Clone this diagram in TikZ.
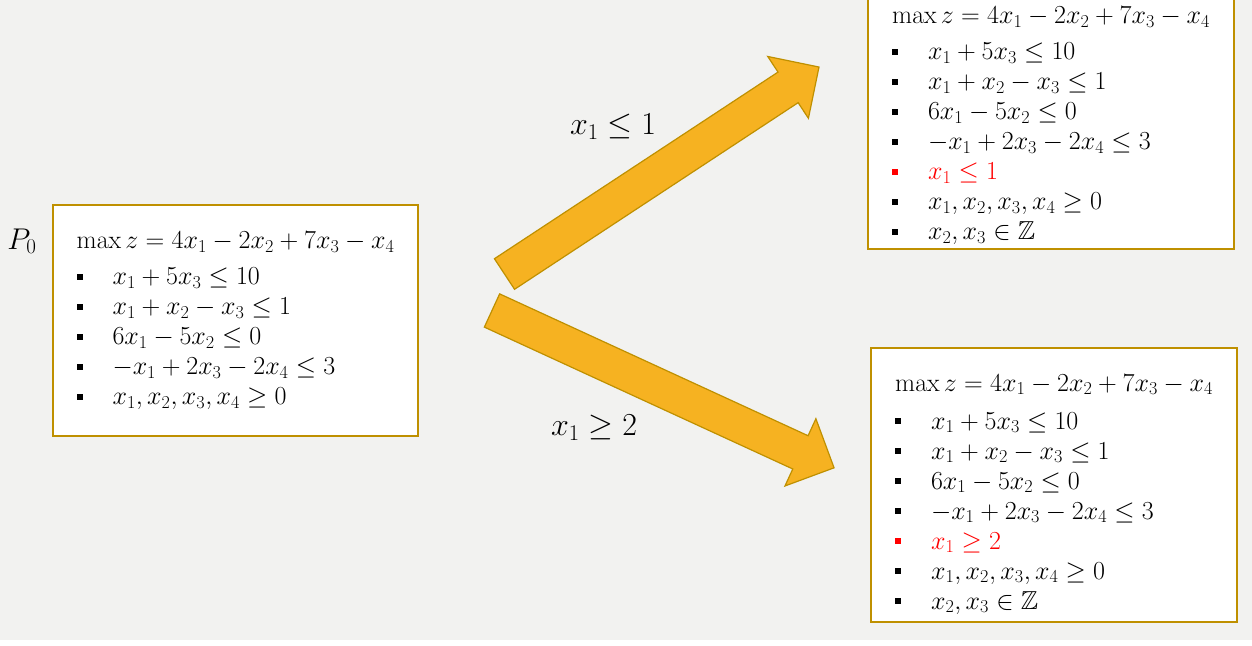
\RequirePackage{fix-cm}
\documentclass[tikz,border=0pt]{standalone}
\usepackage{amsmath}
\usepackage{amssymb}
\usepackage{tikz}
\usetikzlibrary{positioning,calc}
\definecolor{bggray}{HTML}{F2F2F0}
\definecolor{arrowgold}{HTML}{F6B221}
\definecolor{darkgold}{HTML}{BF9000}
\newcommand\Cut[1]{\textcolor{red}{#1}}
\newcommand\sq{\raisebox{5pt}{\rule{6pt}{6pt}}}
\newcommand\objline{\multicolumn{2}{@{}l@{}}{$\max z = 4x_1 - 2x_2 + 7x_3 - x_4$}\\[6pt]}
\newcommand\baserows{%
  \sq & $x_1 + 5x_3 \le 10$\\
  \sq & $x_1 + x_2 - x_3 \le 1$\\
  \sq & $6x_1 - 5x_2 \le 0$\\
  \sq & $-x_1 + 2x_3 - 2x_4 \le 3$\\}

\begin{document}
\begin{tikzpicture}[x=1pt, y=-1pt,
    lpbox/.style={draw=darkgold, line width=1.3pt, fill=white, inner sep=0pt,
      font=\fontsize{26}{30}\selectfont},
    branch/.style={font=\fontsize{32}{34}\selectfont},
    blockarrow/.style={fill=arrowgold, draw=darkgold, line width=1.2pt, line join=miter},
    bigarrow/.pic={
      \draw[blockarrow] (0,-18.3) -- (339.5,-18.3) -- (339.5,-37) -- (376.5,0)
        -- (339.5,37) -- (339.5,18.3) -- (0,18.3) -- cycle;
    }]
  \useasboundingbox (0,0) rectangle (1252,645);
  \fill[bggray] (0,0) rectangle (1252,640);
  \fill[white] (0,640) rectangle (1252,645);

  % problems
  \node[lpbox, minimum width=365pt, minimum height=231pt] (p0) at (235.5,320.5) {%
    \begin{tabular}{@{}l@{\hspace{30pt}}l@{}}
      \objline
      \baserows
      \sq & $x_1, x_2, x_3, x_4 \ge 0$
    \end{tabular}};
  \node[lpbox, minimum width=366pt, anchor=south] (p1) at (1051,249.5) {%
    \begin{tabular}{@{}l@{\hspace{30pt}}l@{}}
      \noalign{\vskip 24pt}
      \objline
      \baserows
      \Cut{\sq} & \Cut{$x_1 \le 1$}\\
      \sq & $x_1, x_2, x_3, x_4 \ge 0$\\
      \sq & $x_2, x_3 \in \mathbb{Z}$
    \end{tabular}};
  \node[lpbox, minimum width=366pt, minimum height=274pt] (p2) at (1054,485) {%
    \begin{tabular}{@{}l@{\hspace{30pt}}l@{}}
      \noalign{\vskip 18pt}
      \multicolumn{2}{@{}l@{}}{$\max z = 4x_1 - 2x_2 + 7x_3 - x_4$}\\[8pt]
      \baserows
      \Cut{\sq} & \Cut{$x_1 \ge 2$}\\
      \sq & $x_1, x_2, x_3, x_4 \ge 0$\\
      \sq & $x_2, x_3 \in \mathbb{Z}$
    \end{tabular}};
  \node[font=\fontsize{30}{32}\selectfont] (p0name) at (22,241) {$P_0$};

  % branching
  \pic[rotate=33.35] at (504.5,274) {bigarrow};
  \pic[rotate=-24.7] at (492,310.5) {bigarrow};
  \node[branch] (lecut) at (613,127) {$x_1 \le 1$};
  \node[branch] (gecut) at (594,428) {$x_1 \ge 2$};
\end{tikzpicture}
\end{document}
